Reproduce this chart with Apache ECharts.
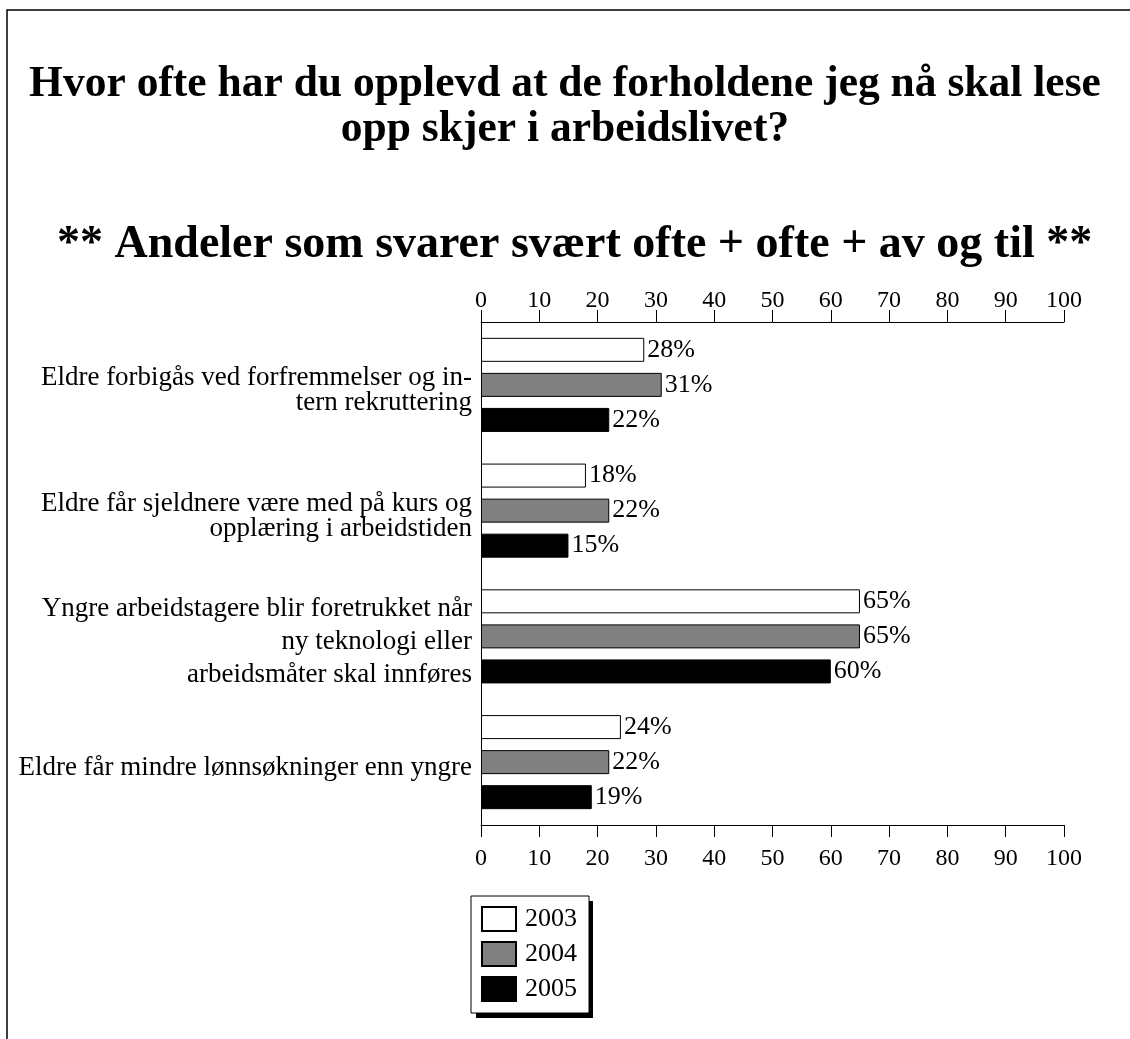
<!DOCTYPE html>
<html>
<head>
<meta charset="utf-8">
<script src="https://cdn.jsdelivr.net/npm/echarts@6/dist/echarts.min.js"></script>
<style>
  html, body { margin: 0; padding: 0; background: #fff; }
  #chart { width: 1130px; height: 1039px; }
</style>
</head>
<body>
<div id="chart"></div>
<script>
const categories = [
  'Eldre forbigås ved forfremmelser og in-\ntern rekruttering',
  'Eldre får sjeldnere være med på kurs og\nopplæring i arbeidstiden',
  'Yngre arbeidstagere blir foretrukket når\nny teknologi eller\narbeidsmåter skal innføres',
  'Eldre får mindre lønnsøkninger enn yngre'
];
const years = ['2003', '2004', '2005'];
const values2003 = [28, 18, 65, 24];
const values2004 = [31, 22, 65, 22];
const values2005 = [22, 15, 60, 19];
const tickValues = [0, 10, 20, 30, 40, 50, 60, 70, 80, 90, 100];

const font = '"Liberation Serif", "DejaVu Serif", serif';
const barColors = ['#ffffff', '#808080', '#000000'];
const seriesValues = [values2003, values2004, values2005];

const chart = echarts.init(document.getElementById('chart'));

const titleStyle = { fontFamily: font, fontSize: 43.5, fontWeight: 'bold', color: '#000', lineHeight: 50 };

const xAxisBase = {
  type: 'value',
  min: tickValues[0],
  max: tickValues[tickValues.length - 1],
  interval: 10,
  splitLine: { show: false },
  axisLine: { show: true, lineStyle: { color: '#000', width: 1 } },
  axisTick: { show: true, length: 12, lineStyle: { color: '#000', width: 1 } },
  axisLabel: { color: '#000', fontFamily: font, fontSize: 24 }
};

const option = {
  backgroundColor: '#fff',
  animation: false,
  title: [
    { text: 'Hvor ofte har du opplevd at de forholdene jeg nå skal lese', left: 'center', top: 55, textStyle: titleStyle },
    { text: 'opp skjer i arbeidslivet?', left: 'center', top: 100, textStyle: titleStyle },
    { text: '** Andeler som svarer svært ofte + ofte + av og til **', left: 52, top: 215,
      textStyle: Object.assign({}, titleStyle, { fontSize: 46 }) }
  ],
  graphic: [
    {
      type: 'rect',
      shape: { x: 7, y: 10, width: 1300, height: 1300 },
      style: { fill: 'none', stroke: '#000', lineWidth: 1.5 },
      silent: true
    },
    {
      // legend drop shadow
      type: 'rect',
      z: -1,
      shape: { x: 476, y: 901, width: 117, height: 117 },
      style: { fill: '#000' },
      silent: true
    }
  ],
  legend: {
    orient: 'vertical',
    left: 471,
    top: 896,
    data: years,
    icon: 'rect',
    itemWidth: 34,
    itemHeight: 24,
    itemGap: 9,
    padding: [10, 12, 11, 10],
    backgroundColor: '#fff',
    borderColor: '#000',
    borderWidth: 1,
    borderRadius: 0,
    textStyle: { color: '#000', fontFamily: font, fontSize: 26, padding: [0, 0, 0, 4] }
  },
  grid: { left: 481, right: 66, top: 322, bottom: 214, containLabel: false },
  xAxis: [
    Object.assign({}, xAxisBase, { position: 'top', axisLabel: Object.assign({}, xAxisBase.axisLabel, { margin: 9 }) }),
    Object.assign({}, xAxisBase, { position: 'bottom', axisLabel: Object.assign({}, xAxisBase.axisLabel, { margin: 22 }) })
  ],
  yAxis: {
    type: 'category',
    inverse: true,
    data: categories,
    axisLine: { show: true, lineStyle: { color: '#000', width: 1 } },
    axisTick: { show: false },
    axisLabel: {
      color: '#000',
      fontFamily: font,
      fontSize: 27,
      margin: 9,
      align: 'right',
      // a small empty first line nudges the text down to sit on the middle bar
      formatter: function (value, index) {
        const style = value.split('\n').length > 2 ? 'l3' : 'l';
        return '{pad| }\n' + value.split('\n').map(function (s) {
          return '{' + style + '|' + s + '}';
        }).join('\n');
      },
      rich: {
        pad: { fontSize: 1, lineHeight: 12 },
        l: { fontFamily: font, fontSize: 27, lineHeight: 25, color: '#000', align: 'right' },
        l3: { fontFamily: font, fontSize: 27, lineHeight: 33, color: '#000', align: 'right' }
      }
    }
  },
  series: years.map(function (y, i) {
    return {
      name: y,
      type: 'bar',
      xAxisIndex: 0,
      data: seriesValues[i],
      barWidth: 24,
      barGap: '46%',
      itemStyle: { color: barColors[i], borderColor: '#000', borderWidth: 1 },
      label: {
        show: true,
        position: 'right',
        distance: 3,
        formatter: '{c}%',
        color: '#000',
        fontFamily: font,
        fontSize: 26,
        padding: [5, 0, 0, 0]
      }
    };
  })
};

chart.setOption(option);
</script>
</body>
</html>
